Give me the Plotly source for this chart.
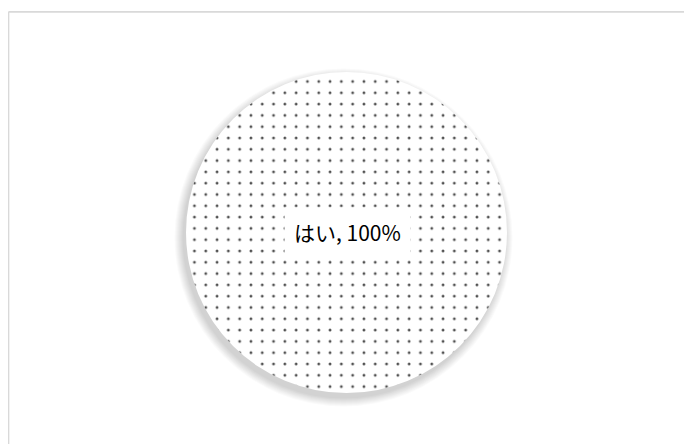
import plotly.graph_objects as go

labels = ["はい"]
values = [100]

W, H = 692, 444
# figure-pixel geometry (page has an 8px body margin)
cx, cy, R = 338.5, 224.5, 160.5

fig = go.Figure()

fig.add_trace(go.Pie(
    labels=labels,
    values=values,
    sort=False,
    textinfo="none",
    hoverinfo="label+percent",
    showlegend=False,
    marker=dict(
        colors=["white"],
        line=dict(width=0),
        pattern=dict(shape=".", fgcolor="#505050", bgcolor="white",
                     size=11.3, solidity=0.05, fillmode="replace"),
    ),
    domain=dict(x=[(cx - R) / W, (cx + R) / W],
                y=[(H - cy - R) / H, (H - cy + R) / H]),
))

shapes = []
# soft drop shadow (layered translucent discs)
for i in range(9):
    r = R + 0.5 + i * 1.0
    shapes.append(dict(
        type="circle", layer="below",
        xref="paper", yref="paper", xsizemode="pixel", ysizemode="pixel",
        xanchor=(cx - 3) / W, yanchor=1 - (cy + 5) / H,
        x0=-r, x1=r, y0=-r, y1=r,
        fillcolor="rgba(0,0,0,0.018)", line=dict(width=0),
    ))
# frame lines
shapes.append(dict(type="line", xref="paper", yref="paper",
                   x0=0.5 / W, x1=1.05, y0=1 - 3.8 / H, y1=1 - 3.8 / H,
                   line=dict(color="#d9d9d9", width=1.7)))
shapes.append(dict(type="line", xref="paper", yref="paper",
                   x0=0.5 / W, x1=0.5 / W, y0=1 - 3.8 / H, y1=-0.05,
                   line=dict(color="#d9d9d9", width=1.7)))

pct = round(100 * values[0] / sum(values))
fig.update_layout(
    width=W, height=H,
    margin=dict(l=0, r=0, t=0, b=0),
    paper_bgcolor="white",
    plot_bgcolor="white",
    shapes=shapes,
    annotations=[dict(
        text=f"{labels[0]}, {pct}%",
        xref="paper", yref="paper",
        x=(cx + 1) / W, y=1 - (cy - 0.5) / H,
        showarrow=False,
        font=dict(family="Noto Sans CJK JP", size=21, color="black"),
        bgcolor="white", borderpad=9,
    )],
)

fig.write_html("out.html")
